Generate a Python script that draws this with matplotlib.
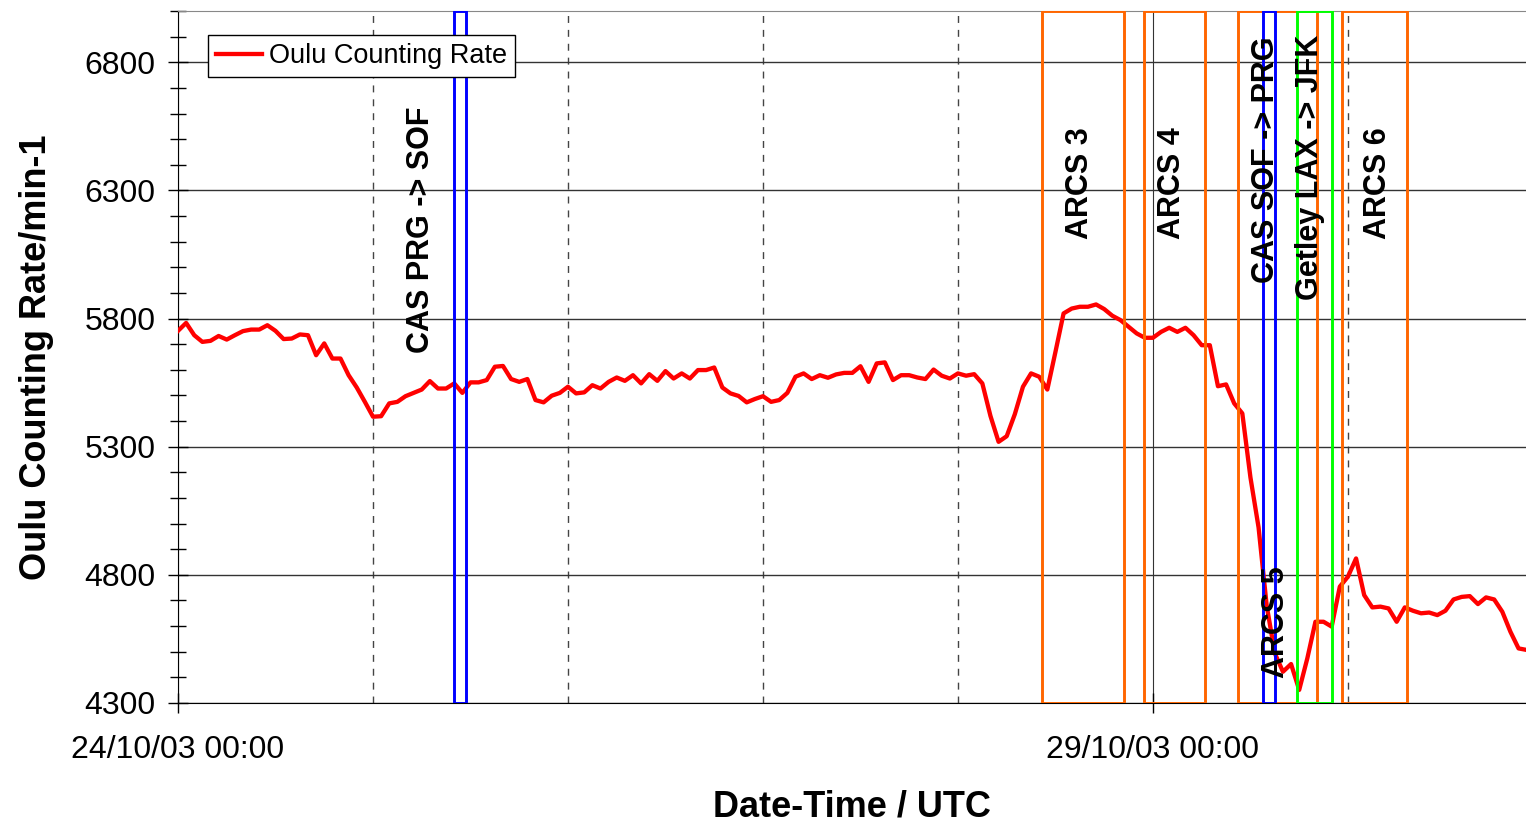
import pandas as pd
import matplotlib
matplotlib.use('Agg')
import matplotlib.pyplot as plt
import matplotlib.dates as mdates
from matplotlib.ticker import MultipleLocator

plt.rcParams['font.family'] = ['Liberation Sans', 'DejaVu Sans']

# Oulu counting rate, hourly from 24/10/03 00:00
rate = [5752, 5783, 5735, 5709, 5713, 5732, 5718, 5735, 5751, 5757,
        5757, 5774, 5752, 5720, 5722, 5738, 5735, 5657, 5703, 5644,
        5644, 5579, 5531, 5475, 5417, 5419, 5469, 5475, 5497, 5510,
        5523, 5556, 5527, 5527, 5547, 5510, 5551, 5551, 5560, 5612,
        5615, 5564, 5553, 5564, 5482, 5473, 5499, 5510, 5534, 5508,
        5512, 5540, 5527, 5553, 5570, 5557, 5579, 5547, 5583, 5557,
        5595, 5566, 5586, 5566, 5599, 5599, 5609, 5531, 5508, 5498,
        5473, 5486, 5497, 5475, 5482, 5510, 5573, 5586, 5564, 5579,
        5569, 5582, 5588, 5588, 5614, 5553, 5625, 5629, 5560, 5579,
        5579, 5570, 5564, 5601, 5577, 5566, 5586, 5577, 5583, 5547,
        5420, 5319, 5341, 5427, 5534, 5586, 5573, 5523, 5670, 5820,
        5839, 5846, 5846, 5855, 5837, 5811, 5794, 5768, 5742, 5725,
        5725, 5748, 5764, 5748, 5764, 5735, 5696, 5696, 5536, 5543,
        5469, 5430, 5180, 4985, 4680, 4494, 4422, 4452, 4351, 4474,
        4617, 4617, 4598, 4754, 4793, 4864, 4721, 4673, 4676, 4669,
        4617, 4673, 4660, 4650, 4653, 4643, 4660, 4704, 4714, 4717,
        4686, 4712, 4704, 4656, 4578, 4513, 4507]
times = pd.date_range('2003-10-24 00:00', periods=len(rate), freq='h')

# flight / event windows
event_start = ['2003-10-25 10:00', '2003-10-28 10:20', '2003-10-28 22:55',
               '2003-10-29 10:28', '2003-10-29 23:15', '2003-10-29 13:32',
               '2003-10-29 17:43']
event_end = ['2003-10-25 11:28', '2003-10-28 20:25', '2003-10-29 06:24',
             '2003-10-29 20:11', '2003-10-30 07:16', '2003-10-29 15:01',
             '2003-10-29 22:02']
event_color = ['#0000FF', '#FF6600', '#FF6600', '#FF6600', '#FF6600',
               '#0000FF', '#00FF00']

# rotated labels
label_text = ['CAS PRG -> SOF', 'ARCS 3', 'ARCS 4', 'CAS SOF -> PRG',
              'Getley LAX -> JFK', 'ARCS 6', 'ARCS 5']
label_time = ['2003-10-25 05:54', '2003-10-28 15:01', '2003-10-29 02:20',
              '2003-10-29 13:54', '2003-10-29 19:19', '2003-10-30 03:42',
              '2003-10-29 15:09']
label_value = [6145, 6328, 6328, 6418, 6390, 6328, 4616]

fig = plt.figure(figsize=(15.26, 8.23), dpi=100)
ax = fig.add_axes([178 / 1526, 1 - 703 / 823, 1 - 178 / 1526, 692 / 823])

ax.plot(times, rate, color='#FF0000', lw=3.1, label='Oulu Counting Rate', zorder=3)

for s, e, c in zip(event_start, event_end, event_color):
    ax.axvspan(pd.Timestamp(s), pd.Timestamp(e), fill=False, edgecolor=c,
               lw=2.1, zorder=4)

for t, tm, v in zip(label_text, label_time, label_value):
    ax.text(pd.Timestamp(tm), v, t, rotation=90, ha='center', va='center',
            fontsize=22, fontweight='bold', zorder=5)

ax.set_xlim(pd.Timestamp('2003-10-24 00:00'), pd.Timestamp('2003-10-30 21:55'))
ax.set_ylim(4300, 7000)

ax.xaxis.set_major_locator(mdates.DayLocator(bymonthday=[24, 29]))
ax.xaxis.set_minor_locator(mdates.DayLocator())
ax.xaxis.set_major_formatter(mdates.DateFormatter('%d/%m/%y %H:%M'))
ax.set_yticks(range(4300, 7000, 500))
ax.yaxis.set_minor_locator(MultipleLocator(100))

ax.grid(which='major', axis='y', color='#333333', lw=1)
ax.grid(which='major', axis='x', color='#333333', lw=0.8)
ax.grid(which='minor', axis='x', color='#444444', lw=1, linestyle=(0, (5, 5)))

ax.tick_params(axis='y', which='major', direction='inout', length=14, width=1,
               labelsize=23, pad=9)
ax.tick_params(axis='y', which='minor', direction='inout', length=11, width=1)
ax.tick_params(axis='x', which='major', direction='inout', length=14, width=1,
               labelsize=23, pad=16)
ax.tick_params(axis='x', which='minor', length=0)

ax.spines['right'].set_visible(False)
ax.spines['top'].set_color('#888888')

ax.set_xlabel('Date-Time / UTC', fontsize=26, fontweight='bold', labelpad=18)
ax.set_ylabel('Oulu Counting Rate/min-1', fontsize=26, fontweight='bold', labelpad=22)

leg = ax.legend(loc='upper left', bbox_to_anchor=(0.0223, 0.965), borderaxespad=0,
                fontsize=19.5, fancybox=False, edgecolor='black', framealpha=1,
                handlelength=1.7, handletextpad=0.25, borderpad=0.3)
leg.get_frame().set_linewidth(1)

fig.savefig('out.png', dpi=100)
